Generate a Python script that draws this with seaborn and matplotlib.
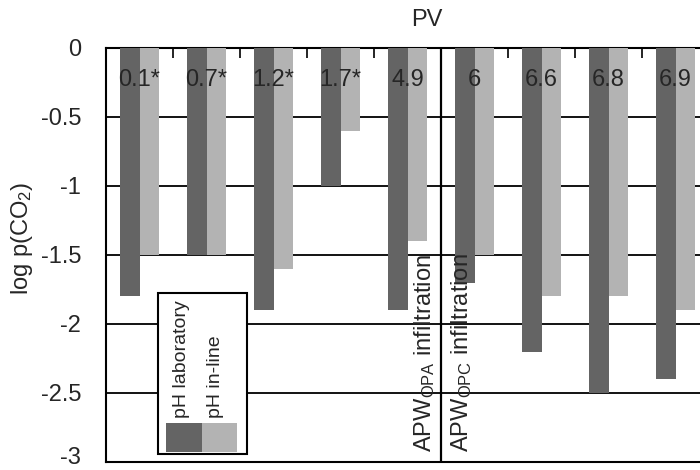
import matplotlib
matplotlib.use("Agg")
import matplotlib.pyplot as plt
from matplotlib.patches import Rectangle
from matplotlib.transforms import ScaledTranslation
import numpy as np
import pandas as pd
import seaborn as sns

# pH classes (value labels above each pair of bars)
classes = ["0.1*", "0.7*", "1.2*", "1.7*", "4.9", "6", "6.6", "6.8", "6.9"]
ph_laboratory = [-1.8, -1.5, -1.9, -1.0, -1.9, -1.7, -2.2, -2.5, -2.4]
ph_inline = [-1.5, -1.5, -1.6, -0.6, -1.4, -1.5, -1.8, -1.8, -1.9]
series_names = ["pH laboratory", "pH in-line"]
y_ticks = [0, -0.5, -1, -1.5, -2, -2.5, -3]
y_tick_labels = ["0", "-0.5", "-1", "-1.5", "-2", "-2.5", "-3"]
phase_labels = [r"APW$_{\mathrm{OPA}}$ infiltration", r"APW$_{\mathrm{OPC}}$ infiltration"]

dark = "#646464"
light = "#b3b3b3"

sns.set_theme(style="white")
plt.rcParams["font.family"] = ["Liberation Sans", "DejaVu Sans"]
plt.rcParams["mathtext.fontset"] = "custom"
plt.rcParams["mathtext.rm"] = "Liberation Sans"
plt.rcParams["mathtext.it"] = "Liberation Sans:italic"
plt.rcParams["mathtext.bf"] = "Liberation Sans:bold"

df = pd.DataFrame({
    "cls": classes * 2,
    "val": ph_laboratory + ph_inline,
    "series": [series_names[0]] * len(classes) + [series_names[1]] * len(classes),
})

W, H = 700, 470
fig = plt.figure(figsize=(7, 4.7), dpi=100)
ax = fig.add_axes([106 / W, (H - 462) / H, 603 / W, 414 / H])

sns.barplot(data=df, x="cls", y="val", hue="series", order=classes,
            hue_order=series_names, palette=[dark, light], width=0.57,
            saturation=1, dodge=True, legend=False, ax=ax, zorder=3,
            linewidth=0, err_kws={"linewidth": 0})

ax.set_xlim(-0.5, 8.5)
ax.set_ylim(-3, 0)

# gridlines and frame
for yv in y_ticks[1:-1]:
    ax.axhline(yv, color="black", lw=1.3, zorder=1)
for s in ["left", "bottom", "top"]:
    ax.spines[s].set_visible(True)
    ax.spines[s].set_color("black")
    ax.spines[s].set_linewidth(1.5)
ax.spines["right"].set_visible(False)

ax.set_yticks(y_ticks)
ax.set_yticklabels(y_tick_labels, fontsize=17)
ax.tick_params(axis="y", length=0, pad=18)
# lift the lowest label so it stays inside the figure
low = ax.get_yticklabels()[-1]
low.set_transform(low.get_transform() + ScaledTranslation(0, 6 / 100, fig.dpi_scale_trans))

# category boundary ticks along the top edge
ax.xaxis.set_ticks_position("top")
ax.set_xticks(np.arange(0.5, 8.5, 1.0))
ax.set_xticklabels([])
ax.tick_params(axis="x", direction="in", length=7, width=1.2, color="black")
ax.set_xlabel("")
ax.set_ylabel("")

fig.text(22 / W, 1 - 238 / H, "log p(CO$_2$)", rotation=90, ha="center",
         va="center", fontsize=17)

# pH value labels
for i, lab in enumerate(classes):
    ax.text(i, -0.23, lab, ha="center", va="center", fontsize=17, zorder=5)

# divider between infiltration phases
ax.axvline(4.5, color="black", lw=1.6, zorder=4)
ax.text(4.26, -2.93, phase_labels[0], rotation=90, ha="center", va="bottom",
        fontsize=17, zorder=5)
ax.text(4.80, -2.93, phase_labels[1], rotation=90, ha="center", va="bottom",
        fontsize=17, zorder=5)

fig.text(427 / W, 1 - 20 / H, "PV", ha="center", va="center", fontsize=17)

# legend box with vertical labels
def px(x, y):
    return x / W, 1 - y / H

lx0, ly0, lx1, ly1 = 158, 293, 247, 454
fig.patches.append(Rectangle(px(lx0, ly1), (lx1 - lx0) / W, (ly1 - ly0) / H,
                             transform=fig.transFigure, facecolor="white",
                             edgecolor="black", lw=1.5, zorder=10))
fig.patches.append(Rectangle(px(166, 452), 36 / W, 29 / H,
                             transform=fig.transFigure, facecolor=dark,
                             edgecolor="none", zorder=11))
fig.patches.append(Rectangle(px(202, 452), 35 / W, 29 / H,
                             transform=fig.transFigure, facecolor=light,
                             edgecolor="none", zorder=11))
fig.text(*px(181, 418), series_names[0], rotation=90, ha="center", va="bottom",
         fontsize=14, zorder=12)
fig.text(*px(216, 418), series_names[1], rotation=90, ha="center", va="bottom",
         fontsize=14, zorder=12)

fig.savefig("out.png", dpi=100)
